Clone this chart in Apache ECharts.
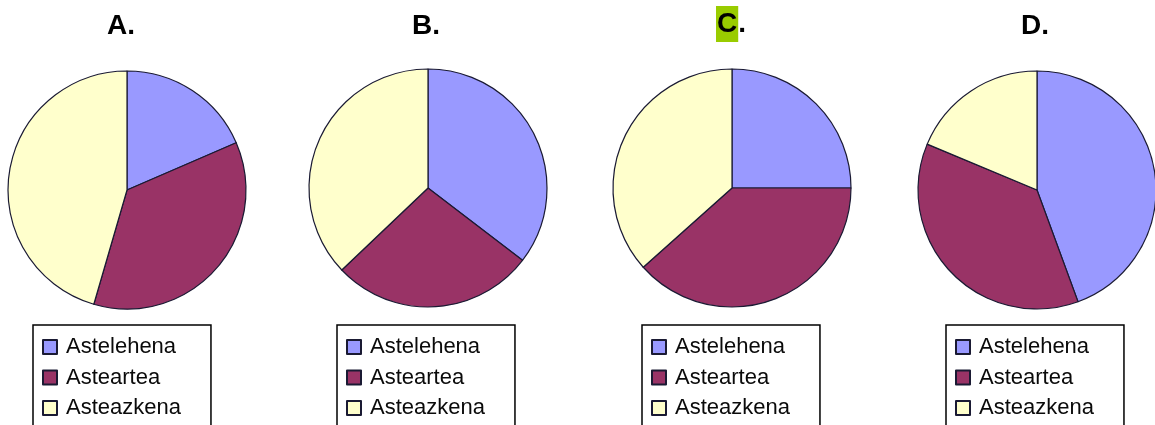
<!DOCTYPE html>
<html>
<head>
<meta charset="utf-8">
<script src="https://cdn.jsdelivr.net/npm/echarts@6/dist/echarts.min.js"></script>
<style>
  html, body { margin: 0; padding: 0; background: #ffffff; }
  #chart { width: 1155px; height: 425px; }
</style>
</head>
<body>
<div id="chart"></div>
<script>
// Days of the week (Basque) shown in every pie
const categories = ['Astelehena', 'Asteartea', 'Asteazkena'];

// Option labels above each pie
const panelLabels = ['A', 'B', 'C', 'D'];
const correctPanel = 'C';

// Share of each day, per pie (percent)
const valuesA = [18.5, 36.0, 45.5];
const valuesB = [35.4, 27.5, 37.1];
const valuesC = [25.0, 38.4, 36.6];
const valuesD = [44.4, 36.9, 18.7];

const panelValues = [valuesA, valuesB, valuesC, valuesD];
const sliceColors = ['#9999ff', '#993366', '#ffffcc'];

// Layout of the four panels
const pieCenters = [[127, 190], [428, 188], [732, 188], [1037, 190]];
const pieRadius = 119;
const titleX = [121, 426, 731, 1035];
const legendLeft = [33, 337, 642, 946];

const fontFamily = '"Liberation Sans", Arial, sans-serif';

const chart = echarts.init(document.getElementById('chart'), null, { renderer: 'canvas' });

const titles = panelLabels.map((lab, i) => {
  const isCorrect = lab === correctPanel;
  return {
    text: isCorrect ? '{hl|' + lab + '}{n|.}' : lab + '.',
    left: titleX[i],
    top: isCorrect ? 10 : 12,
    padding: 0,
    textAlign: 'center',
    textStyle: {
      fontFamily: fontFamily,
      fontSize: 28,
      fontWeight: 'bold',
      color: '#000',
      rich: {
        hl: {
          fontFamily: fontFamily, fontSize: 28, fontWeight: 'bold', color: '#000',
          backgroundColor: '#99cc00', padding: [4, 1, 4, 1], lineHeight: 28
        },
        n: {
          fontFamily: fontFamily, fontSize: 28, fontWeight: 'bold', color: '#000',
          padding: [4, 0, 4, 0], lineHeight: 28
        }
      }
    }
  };
});

const legends = legendLeft.map((x) => ({
  orient: 'vertical',
  left: x,
  top: 325,
  height: 200,
  padding: [11, 30, 40, 9],
  itemGap: 8.5,
  itemWidth: 14,
  itemHeight: 14,
  icon: 'rect',
  backgroundColor: '#ffffff',
  borderColor: '#000000',
  borderWidth: 1.5,
  borderRadius: 0,
  selectedMode: false,
  data: categories,
  textStyle: {
    fontFamily: fontFamily,
    fontSize: 22,
    color: '#0a0a0a',
    padding: [0, 0, 0, 4]
  }
}));

const series = panelValues.map((vals, i) => ({
  type: 'pie',
  center: pieCenters[i],
  radius: pieRadius,
  startAngle: 90,
  clockwise: true,
  silent: true,
  label: { show: false },
  labelLine: { show: false },
  emphasis: { disabled: true },
  itemStyle: { borderColor: '#1a1a33', borderWidth: 1.2 },
  data: categories.map((name, k) => ({
    name: name,
    value: vals[k],
    itemStyle: { color: sliceColors[k] }
  }))
}));

chart.setOption({
  animation: false,
  backgroundColor: '#ffffff',
  title: titles,
  legend: legends,
  series: series
});
</script>
</body>
</html>
